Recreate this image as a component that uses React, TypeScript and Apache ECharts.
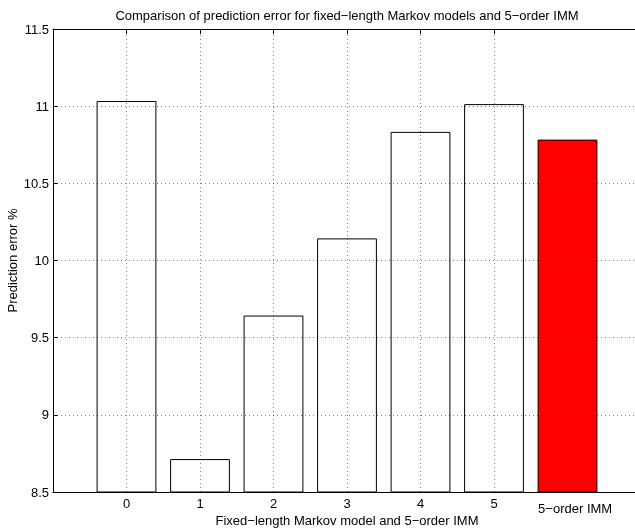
import React, { useEffect, useRef } from 'react';
import * as echarts from 'echarts';

const categories = ['0', '1', '2', '3', '4', '5'];
const positions = [0, 1, 2, 3, 4, 5, 6];
const values = [11.03, 8.71, 9.64, 10.14, 10.83, 11.01, 10.78];
const barColors = ['#ffffff', '#ffffff', '#ffffff', '#ffffff', '#ffffff', '#ffffff', '#ff0000'];
const tickPositions = [0, 1, 2, 3, 4, 5];
const immLabel = '5−order IMM';
const chartTitle = 'Comparison of prediction error for fixed−length Markov models and 5−order IMM';
const xTitle = 'Fixed−length Markov model and 5−order IMM';
const yTitle = 'Prediction error %';

const Y_MIN = 8.5;
const Y_MAX = 11.5;
const Y_STEP = 0.5;
const X_MIN = -1;
const X_MAX = 7;
const BAR_WIDTH = 0.8;
const FONT = '"Liberation Sans", Arial, Helvetica, sans-serif';
const FS = 13;

const gridLine = { color: '#000', opacity: 0.5, width: 1, type: [1, 3] as any };

export default function App() {
  const ref = useRef<HTMLDivElement>(null);
  useEffect(() => {
    if (!ref.current) return;
    const chart = echarts.init(ref.current, null, { renderer: 'svg' });
    const axisCommon = {
      type: 'value' as const,
      min: X_MIN,
      max: X_MAX,
      interval: 1,
      axisLine: { show: true, onZero: false, lineStyle: { color: '#000', width: 1 } },
      axisTick: { show: true, inside: true, length: 5, customValues: tickPositions, lineStyle: { color: '#000' } },
      splitLine: { show: false },
    };
    chart.setOption({
      animation: false,
      textStyle: { fontFamily: FONT },
      grid: { left: 53, top: 29, width: 588, height: 463, containLabel: false, outerBoundsMode: 'none' },
      xAxis: [
        {
          ...axisCommon,
          position: 'bottom',
          name: xTitle,
          nameLocation: 'middle',
          nameGap: 22,
          nameMoveOverlap: false,
          nameTextStyle: { color: '#000', fontSize: FS, fontFamily: FONT },
          axisLabel: {
            show: true,
            customValues: tickPositions,
            margin: 5,
            color: '#000',
            fontSize: FS,
            fontFamily: FONT,
            formatter: (v: number) => (v >= 0 && v < categories.length ? categories[v] : ''),
          },
        },
        {
          ...axisCommon,
          position: 'top',
          axisLabel: { show: false },
        },
      ],
      yAxis: {
        type: 'value',
        min: Y_MIN,
        max: Y_MAX,
        interval: Y_STEP,
        z: 10,
        name: yTitle,
        nameLocation: 'middle',
        nameGap: 34,
        nameMoveOverlap: false,
        nameTextStyle: { color: '#000', fontSize: FS, fontFamily: FONT },
        axisLine: { show: true, onZero: false, lineStyle: { color: '#000', width: 1 } },
        axisTick: { show: true, inside: true, length: 5, lineStyle: { color: '#000' } },
        axisLabel: { color: '#000', fontSize: FS, fontFamily: FONT, margin: 4 },
        splitLine: { show: true, lineStyle: gridLine },
      },
      series: [
        {
          type: 'custom',
          z: 2,
          encode: { x: 0, y: 1 },
          data: positions.map((p, i) => [p, values[i]]),
          renderItem: (params: any, api: any) => {
            const x = api.value(0);
            const v = api.value(1);
            const p0 = api.coord([x - BAR_WIDTH / 2, Y_MIN]);
            const p1 = api.coord([x + BAR_WIDTH / 2, v]);
            return {
              type: 'rect',
              shape: { x: p0[0], y: p1[1], width: p1[0] - p0[0], height: p0[1] - p1[1] },
              style: { fill: barColors[params.dataIndex], stroke: '#000', lineWidth: 1 },
            };
          },
        },
        {
          type: 'line',
          z: 5,
          data: tickPositions.map((p) => [p, Y_MIN]),
          showSymbol: false,
          symbol: 'none',
          lineStyle: { opacity: 0, width: 0 },
          silent: true,
          markLine: {
            silent: true,
            symbol: 'none',
            z: 5,
            label: { show: false },
            lineStyle: gridLine,
            data: tickPositions.map((p) => ({ xAxis: p })),
          },
        },
      ],
    });
    const bx = chart.convertToPixel({ xAxisIndex: 0 }, positions[6] - BAR_WIDTH / 2) as unknown as number;
    const by = chart.convertToPixel({ yAxisIndex: 0 }, Y_MIN) as unknown as number;
    const midX = chart.convertToPixel({ xAxisIndex: 0 }, (X_MIN + X_MAX) / 2) as unknown as number;
    const topY = chart.convertToPixel({ yAxisIndex: 0 }, Y_MAX) as unknown as number;
    chart.setOption({
      graphic: [
        {
          type: 'text',
          x: bx,
          y: by + 16,
          style: { text: immLabel, fontSize: FS, fontFamily: FONT, fill: '#000', textAlign: 'left', textVerticalAlign: 'middle' },
        },
        {
          type: 'text',
          x: midX,
          y: topY - 14,
          style: { text: chartTitle, fontSize: FS, fontFamily: FONT, fill: '#000', textAlign: 'center', textVerticalAlign: 'middle' },
        },
      ],
    });
    return () => chart.dispose();
  }, []);
  return <div ref={ref} style={{ position: 'fixed', left: 0, top: 0, width: 635, height: 528 }} />;
}
